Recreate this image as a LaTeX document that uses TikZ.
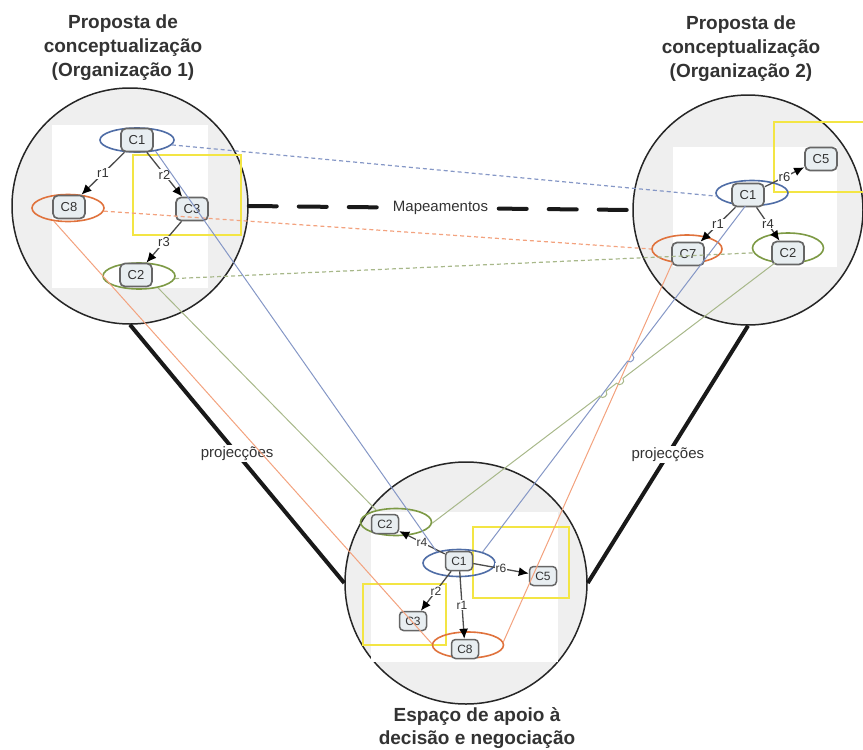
\documentclass[tikz,border=0pt]{standalone}
\usepackage{fontspec}
\setmainfont{Liberation Sans}
\usetikzlibrary{shapes.geometric,arrows.meta,calc,intersections}
\definecolor{cblue}{HTML}{4F6DA6}
\definecolor{corange}{HTML}{E0723C}
\definecolor{cgreen}{HTML}{7D9A45}
\definecolor{pblue}{HTML}{8597C6}
\definecolor{porange}{HTML}{F3A27E}
\definecolor{pgreen}{HTML}{A8B88A}
\definecolor{cyel}{HTML}{F3E544}
\definecolor{cfill}{HTML}{EFEFEF}
\definecolor{boxfill}{HTML}{E8EEF1}
\definecolor{boxdraw}{HTML}{666666}
\definecolor{txt}{HTML}{333333}
\begin{document}
\begin{tikzpicture}[x=1pt,y=-1pt,
  bigcirc/.style={circle, draw=black!85, line width=1.5pt, fill=cfill, inner sep=0pt},
  ybox/.style={draw=cyel, line width=1.5pt},
  ell/.style={ellipse, line width=1.6pt, inner sep=0pt},
  cbox/.style={rectangle, rounded corners=5pt, draw=boxdraw, line width=1.7pt, fill=boxfill,
    minimum width=32pt, minimum height=23pt, inner sep=0pt, text=txt, font=\fontsize{13}{13}\selectfont},
  sbox/.style={cbox, rounded corners=4pt, line width=1.5pt, minimum width=27pt, minimum height=19pt, font=\fontsize{12}{12}\selectfont},
  rel/.style={draw=black!70, line width=1.3pt, -{Latex[length=10pt,width=9pt,color=black]}},
  lbl/.style={fill=white, inner sep=1pt, text=txt, font=\fontsize{13}{13}\selectfont},
  slbl/.style={lbl, font=\fontsize{12}{12}\selectfont},
  mapline/.style={line width=1.2pt, dash pattern=on 4pt off 3pt},
  projline/.style={line width=1pt},
  heavy/.style={line width=4pt, draw=black!90},
  titletxt/.style={align=center, text=txt, font=\bfseries\fontsize{19}{24}\selectfont},
  plbl/.style={fill=white, inner sep=1.5pt, text=txt, font=\fontsize{15}{15}\selectfont},
  hop/.style={bend left=90, looseness=1.6}
]
\useasboundingbox (0,0) rectangle (863,750);

% titles
\node[titletxt] (t1) at (123,48) {Proposta de\\conceptualização\\(Organização 1)};
\node[titletxt] (t2) at (741,49) {Proposta de\\conceptualização\\(Organização 2)};
\node[titletxt, font=\bfseries\fontsize{19}{22.5}\selectfont] (t3) at (477,728) {Espaço de apoio à\\decisão e negociação};

% big circles
\node[bigcirc, minimum size=236pt] (Lc) at (130,206) {};
\node[bigcirc, minimum size=230pt] (Rc) at (748,210) {};
\node[bigcirc, minimum size=242pt] (Bc) at (466,583) {};

% white panels
\fill[white] (52,125) rectangle (208,288);
\fill[white] (673,147) rectangle (837,267);
\fill[white] (371,512) rectangle (558,662);

% yellow boxes
\draw[ybox] (133,155) rectangle (241,235);
\draw[ybox] (774,122) rectangle (866,192);
\draw[ybox] (473,527) rectangle (569,598);
\draw[ybox] (363,584) rectangle (446,645);

% ellipses
\node[ell, draw=cblue, minimum width=74pt, minimum height=24pt] (LC1e) at (137,140) {};
\node[ell, draw=corange, minimum width=72pt, minimum height=27pt] (LC8e) at (68,208) {};
\node[ell, draw=cgreen, minimum width=72pt, minimum height=26pt] (LC2e) at (139,276) {};
\node[ell, draw=cblue, minimum width=72pt, minimum height=25pt] (RC1e) at (752,193) {};
\node[ell, draw=corange, minimum width=70pt, minimum height=28pt] (RC7e) at (687,249) {};
\node[ell, draw=cgreen, minimum width=71pt, minimum height=30pt] (RC2e) at (788,248) {};
\node[ell, draw=cblue, minimum width=72pt, minimum height=27pt] (BC1e) at (459,563) {};
\node[ell, draw=cgreen, minimum width=71pt, minimum height=27pt] (BC2e) at (396,522) {};
\node[ell, draw=corange, minimum width=71pt, minimum height=26pt] (BC8e) at (468,645) {};

% concept boxes
\node[cbox] (LC1) at (137,140) {C1};
\node[cbox] (LC8) at (69,207) {C8};
\node[cbox] (LC3) at (192,209) {C3};
\node[cbox] (LC2) at (136,275) {C2};
\node[cbox] (RC1) at (748,195) {C1};
\node[cbox] (RC5) at (821,159) {C5};
\node[cbox] (RC7) at (688,254) {C7};
\node[cbox] (RC2) at (788,253) {C2};
\node[sbox] (BC1) at (459,561) {C1};
\node[sbox] (BC2) at (385,524) {C2};
\node[sbox] (BC5) at (543,576) {C5};
\node[sbox] (BC3) at (413,621) {C3};
\node[sbox] (BC8) at (465,649) {C8};

% relations
\draw[rel] (LC1) -- node[lbl]{r1} (LC8);
\draw[rel] (LC1) -- node[lbl]{r2} (LC3);
\draw[rel] (LC3) -- node[lbl]{r3} (LC2);
\draw[rel] (RC1) -- node[lbl]{r6} (RC5);
\draw[rel] (RC1) -- node[lbl]{r1} (RC7);
\draw[rel] (RC1) -- node[lbl]{r4} (RC2);
\draw[rel] (BC1) -- node[slbl]{r4} (BC2);
\draw[rel] (BC1) -- node[slbl]{r6} (BC5);
\draw[rel] (BC1) -- node[slbl]{r2} (BC3);
\draw[rel] (BC1) -- node[slbl]{r1} (BC8);

% heavy links
\draw[heavy, line cap=round, dash pattern=on 28pt off 22pt] (Lc.east) -- node[plbl]{Mapeamentos} (Rc.west);
\draw[heavy] (Lc.south) -- node[plbl]{projecções} (Bc.west);
\draw[heavy] (Rc.south) -- node[plbl]{projecções} (Bc.east);

% mapping lines
\draw[mapline, draw=pblue] (LC1e.-8) -- (RC1e.-175);
\draw[mapline, draw=porange] (LC8e.-5) -- (RC7e.west);
\draw[mapline, draw=pgreen] (LC2e.-4) -- (RC2e.-172);

% projection lines (left)
\draw[projline, draw=pblue] (LC1e.-31) -- (BC1e.153);
\draw[projline, draw=porange] (LC8e.-137) -- (BC8e.178);
\draw[projline, draw=pgreen] (LC2e.-32) -- (BC2e.149);

% projection lines (right) with line hops
\path[name path=pB] (RC1e.-117) -- (BC1e.25);
\path[name path=pO] (RC7e.-137) -- (BC8e.5);
\path[name path=pG] (RC2e.-131) -- (BC2e.-2);
\path[name intersections={of=pB and pO, by=xBO}];
\path[name intersections={of=pG and pB, by=xGB}];
\path[name intersections={of=pG and pO, by=xGO}];
\draw[projline, draw=porange] (RC7e.-137) -- (BC8e.5);
\draw[projline, draw=pblue] (RC1e.-117) -- ($(xBO)!4pt!(RC1e.-117)$) to[hop] ($(xBO)!4pt!(BC1e.25)$) -- (BC1e.25);
\draw[projline, draw=pgreen] (RC2e.-131) -- ($(xGO)!4pt!(RC2e.-131)$) to[hop] ($(xGO)!4pt!(BC2e.-2)$)
  -- ($(xGB)!4pt!(RC2e.-131)$) to[hop] ($(xGB)!4pt!(BC2e.-2)$) -- (BC2e.-2);
\end{tikzpicture}
\end{document}
